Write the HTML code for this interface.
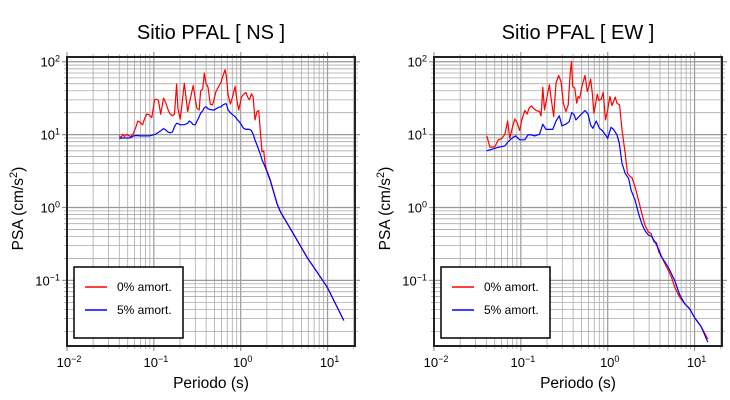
<!DOCTYPE html>
<html><head><meta charset="utf-8"><style>
body{margin:0;background:#fff;}
svg{display:block;font-family:"Liberation Sans",Arial,sans-serif;}
</style></head><body>
<svg id="chart" width="730" height="400" viewBox="0 0 730 400" xmlns="http://www.w3.org/2000/svg"></svg>
<script>
// ---- NS panel data ----
const periodsNS = [0.0398,0.042,0.0439,0.0459,0.0488,0.051,0.0543,0.0582,0.0619,0.0654,0.0695,0.074,0.078,0.083,0.0883,0.0948,0.102,0.108,0.113,0.12,0.129,0.137,0.145,0.154,0.164,0.173,0.183,0.189,0.201,0.21,0.224,0.234,0.245,0.256,0.27,0.284,0.3,0.313,0.333,0.345,0.365,0.381,0.398,0.42,0.447,0.475,0.497,0.519,0.557,0.593,0.625,0.659,0.684,0.715,0.76,0.809,0.861,0.908,0.949,1.02,1.08,1.15,1.2,1.26,1.33,1.39,1.46,1.54,1.61,1.69,1.76,1.84,1.93,2.2,2.62,2.87,4.09,5.82,9.9,15.4];
const redNS = [9.7,9.1,10.1,9.4,10.1,9.7,9.4,10.4,12.6,15.4,14.8,13.6,16.4,19.2,18.7,17.1,30,30.6,29.4,19,31.6,27.6,22.3,19.2,18.1,19.2,49.3,23,16.3,24.8,50.8,33.3,20.7,27,35.9,47.2,30.6,23,21.8,39.9,42,69.8,50.8,44.8,26.1,25.6,31.6,39.1,45.8,52,64.2,77.6,62.8,35.2,26.4,33.3,45.8,28.4,21.8,32.7,35.9,37.8,32.7,30,36.3,33.3,15.9,20.7,21.4,10.4,5.8,6.0,3.63,2.38,1.13,0.87,0.425,0.207,0.081,0.0282];
const blueNS = [8.9,8.9,9.0,9.0,9.0,9.0,9.1,9.6,9.7,9.7,9.6,9.6,9.6,9.6,9.6,9.8,10.0,10.4,10.8,11.3,12.1,11.6,10.9,10.6,10.9,12.9,14.3,14.2,13.6,13.7,13.7,14.0,14.3,15.4,14.7,13.7,13.7,15.2,17.6,19.7,21.2,23.3,24.2,22.6,22.1,21.8,21.8,22.6,23.6,24.2,25.6,26.4,26.4,21.8,20,18.7,17.6,16.2,15.4,13.6,12.2,11.8,11.9,11.8,11.3,10.2,8.4,7.2,6.2,5.3,4.5,4.0,3.5,2.3,1.13,0.87,0.425,0.207,0.081,0.0282];
// ---- EW panel data ----
const periodsRedEW = [0.0405,0.0441,0.0503,0.055,0.06,0.0655,0.0703,0.0746,0.0794,0.0851,0.0906,0.097,0.103,0.111,0.118,0.124,0.132,0.14,0.15,0.164,0.171,0.179,0.187,0.199,0.213,0.223,0.239,0.254,0.272,0.29,0.308,0.33,0.351,0.37,0.383,0.394,0.418,0.44,0.456,0.476,0.51,0.548,0.582,0.608,0.635,0.664,0.693,0.724,0.757,0.791,0.841,0.887,0.942,1.0,1.06,1.12,1.17,1.22,1.28,1.37,1.46,1.59,1.69,1.82,1.9,2.07,2.26,2.47,2.69,2.94,3.15,3.41,3.65,3.88,4.17,4.75,5.42,5.9,6.73,7.67,8.75,9.98,11.9,14.2];
const redEW = [9.6,6.7,6.8,8.5,8.8,10.1,15.4,8.9,12.2,16.4,14.6,11.4,16.3,21.4,19.2,23,24.8,23,21.4,20.7,18.1,44.4,21.8,31.6,48.2,31.6,17.7,50.8,64.9,53.6,27,20.7,25.6,69.8,101,45.8,43.5,27,33.3,31.6,48.2,64.9,39.1,45.8,57.7,37.1,19.7,25.6,35.9,29.4,30.6,37.8,15.9,21.8,33.3,25.1,28.4,32.7,27,25.6,11.6,5.5,2.94,2.64,2.59,1.92,1.26,0.83,0.57,0.46,0.44,0.337,0.33,0.245,0.21,0.153,0.111,0.081,0.059,0.048,0.041,0.031,0.0233,0.0157];
const periodsBlueEW = [0.0405,0.0461,0.055,0.0655,0.0714,0.0815,0.0875,0.097,0.111,0.121,0.132,0.144,0.164,0.179,0.195,0.233,0.254,0.277,0.297,0.33,0.36,0.386,0.411,0.43,0.468,0.51,0.548,0.593,0.635,0.676,0.738,0.805,0.863,0.942,1.0,1.09,1.17,1.28,1.36,1.46,1.59,1.74,1.86,2.07,2.26,2.47,2.69,2.94,3.2,3.5,3.82,4.17,4.96,5.9,6.73,7.67,8.75,9.98,11.9,14.2];
const blueEW = [6.0,6.3,6.7,7.0,8.0,9.2,9.6,8.5,8.5,9.9,9.9,9.6,10.1,13.9,11.8,11.8,15.4,18.1,13.2,13.9,15.1,20.1,18.7,15.9,17.7,19.7,21.4,19.2,13.6,12.2,15.4,12.2,11.4,9.9,8.9,12.6,11.8,9.9,7.6,4.04,2.94,2.51,1.73,1.26,0.83,0.6,0.48,0.42,0.40,0.337,0.273,0.21,0.153,0.1,0.064,0.048,0.041,0.031,0.0233,0.0142];
// ---- axis tick labels ----
const xTickExp = [-2,-1,0,1];
const yTickExp = [2,1,0,-1];
const legendLabels = ["0% amort.","5% amort."];
const titles = ["Sitio PFAL [ NS ]","Sitio PFAL [ EW ]"];

const NS = "http://www.w3.org/2000/svg";
const svg = document.getElementById('chart');
function mk(tag, attrs, parent){
  const e = document.createElementNS(NS, tag);
  for (const k in attrs) e.setAttribute(k, attrs[k]);
  (parent||svg).appendChild(e);
  return e;
}
function supLabel(g, x, y, exp, anchor){
  const t = mk('text', {x:x, y:y, 'font-size':13, 'text-anchor':anchor, fill:'#000'}, g);
  
  
  const a = mk('tspan', {}, t); a.textContent = '10';
  const b = mk('tspan', {dy:-5, 'font-size':9}, t); b.textContent = (exp<0?'\u2212'+(-exp):String(exp));
}
function panel(idx, L, R, T, B, series){
  const g = mk('g', {});
  
  
  const xmin=-2, xmax=Math.log10(20.7), ymin=-1.9, ymax=2.065;
  const sx = p => L + (Math.log10(p)-xmin)/(xmax-xmin)*(R-L);
  const sy = v => B - (Math.log10(v)-ymin)/(ymax-ymin)*(B-T);
  for (let d=-2; d<=1; d++) for (let m=1; m<=9; m++){
    const p = m*Math.pow(10,d); if (p>20.7) continue;
    const x = sx(p);
    const gl = mk('line', {x1:x, x2:x, y1:T-(m===1?5:3), y2:B+(m===1?5:3), stroke:m===1?'#999':'#aaa', 'stroke-width':m===1?1.2:0.8}, g);
     
  }
  for (let d=-2; d<=2; d++) for (let m=1; m<=9; m++){
    const v = m*Math.pow(10,d);
    if (Math.log10(v)<ymin || Math.log10(v)>ymax) continue;
    const y = sy(v);
    const gl = mk('line', {x1:L-(m===1?5:3), x2:R+(m===1?5:3), y1:y, y2:y, stroke:m===1?'#999':'#aaa', 'stroke-width':m===1?1.2:0.8}, g);
     
  }
  series.forEach(s => {
    const pts = s.p.map((p,i)=> sx(p).toFixed(1)+','+sy(s.v[i]).toFixed(1)).join(' ');
    const pl = mk('polyline', {points:pts, fill:'none', stroke:s.c, 'stroke-width':1.2, 'stroke-linejoin':'round'}, g);
    
    
  });
  const fr = mk('rect', {x:L, y:T, width:R-L, height:B-T, fill:'none', stroke:'#222', 'stroke-width':2}, g);
   
  xTickExp.forEach(e => supLabel(g, sx(Math.pow(10,e))+2, 367, e, 'middle'));
  yTickExp.forEach(e => supLabel(g, L-7, sy(Math.pow(10,e))+5, e, 'end'));
  const cx = (L+R)/2;
  const tt = mk('text', {x:cx, y:39, 'font-size':20, 'text-anchor':'middle'}, g);
  tt.textContent = titles[idx];
   
  const xt = mk('text', {x:cx, y:388, 'font-size':15.5, 'text-anchor':'middle'}, g);
  xt.textContent = 'Periodo (s)';
   
  const yt = mk('text', {x:0, y:0, 'font-size':15.5, 'text-anchor':'middle', transform:'translate('+(L-44)+','+((T+B)/2+7)+') rotate(-90)'}, g);
   
  const y1 = mk('tspan', {}, yt); y1.textContent = 'PSA (cm/s';
  const y2 = mk('tspan', {dy:-6, 'font-size':11}, yt); y2.textContent = '2';
  const y3 = mk('tspan', {dy:6}, yt); y3.textContent = ')';
  const lx = L+7, ly = 267;
  const lg = mk('g', {}, g);
   
  mk('rect', {x:lx, y:ly, width:109, height:71, fill:'#fff', stroke:'#000', 'stroke-width':1.5}, lg);
  series.forEach((s,i) => {
    const yy = ly+20+i*23;
    const sw = mk('line', {x1:lx+11, x2:lx+33, y1:yy, y2:yy, stroke:s.c, 'stroke-width':1.6}, lg);
     
    const tx = mk('text', {x:lx+43, y:yy+4, 'font-size':12}, lg);
    tx.textContent = legendLabels[i];
     
  });
}
panel(0, 67, 355, 57, 346, [
  {p:periodsNS, v:redNS, c:'#ff0000', name:'ns-0pct-line'},
  {p:periodsNS, v:blueNS, c:'#0000ff', name:'ns-5pct-line'}
]);
panel(1, 434, 722, 57, 346, [
  {p:periodsRedEW, v:redEW, c:'#ff0000', name:'ew-0pct-line'},
  {p:periodsBlueEW, v:blueEW, c:'#0000ff', name:'ew-5pct-line'}
]);
</script>
</body></html>
